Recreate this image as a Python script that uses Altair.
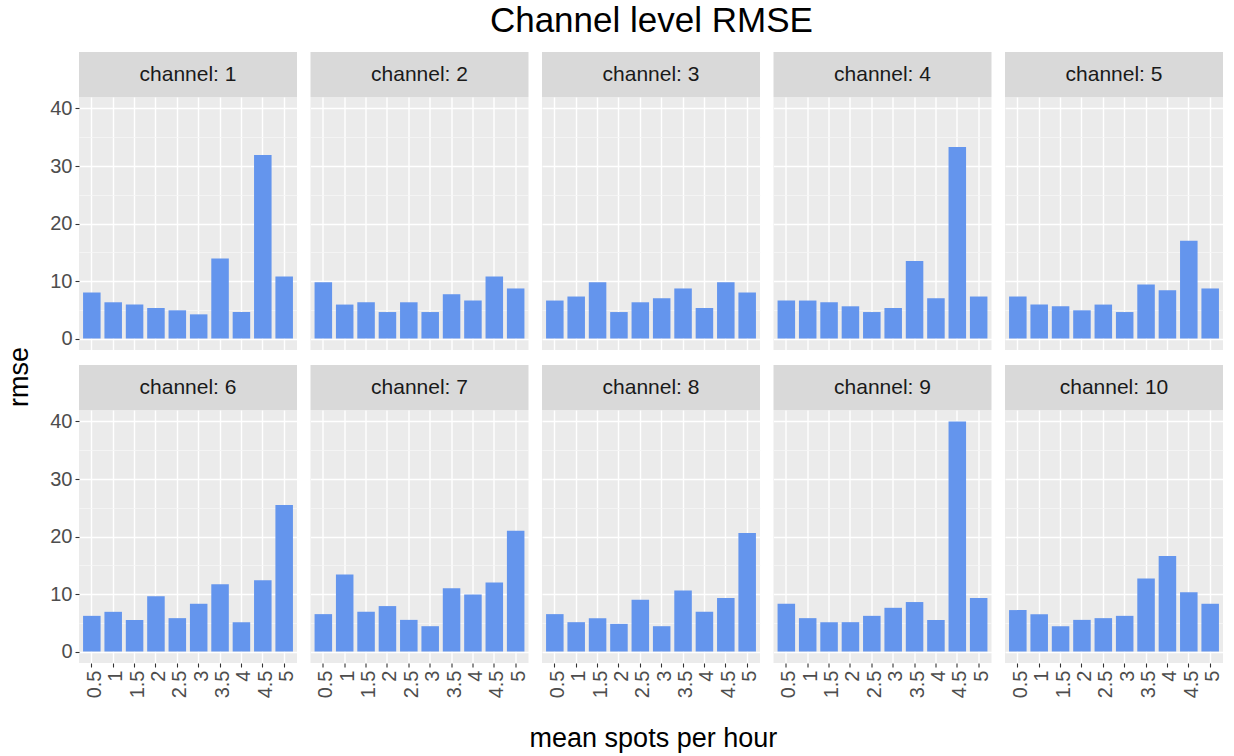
import altair as alt
import pandas as pd

# Mean spots per hour (x categories) and per-channel RMSE values
spot_labels = ["0.5", "1", "1.5", "2", "2.5", "3", "3.5", "4", "4.5", "5"]
channels = [1, 2, 3, 4, 5, 6, 7, 8, 9, 10]

rmse_ch1 = [8.0, 6.3, 5.9, 5.3, 4.9, 4.2, 13.9, 4.6, 31.9, 10.8]
rmse_ch2 = [9.8, 5.9, 6.3, 4.6, 6.3, 4.6, 7.7, 6.6, 10.8, 8.7]
rmse_ch3 = [6.6, 7.3, 9.8, 4.6, 6.3, 7.0, 8.7, 5.3, 9.8, 8.0]
rmse_ch4 = [6.6, 6.6, 6.3, 5.6, 4.6, 5.3, 13.5, 7.0, 33.3, 7.3]
rmse_ch5 = [7.3, 5.9, 5.6, 4.9, 5.9, 4.6, 9.4, 8.4, 17.0, 8.7]
rmse_ch6 = [6.2, 6.9, 5.5, 9.6, 5.8, 8.3, 11.7, 5.1, 12.4, 25.5]
rmse_ch7 = [6.5, 13.4, 6.9, 7.9, 5.5, 4.4, 11.0, 9.9, 12.0, 21.0]
rmse_ch8 = [6.5, 5.1, 5.8, 4.8, 9.0, 4.4, 10.6, 6.9, 9.3, 20.6]
rmse_ch9 = [8.3, 5.8, 5.1, 5.1, 6.2, 7.6, 8.6, 5.5, 40.0, 9.3]
rmse_ch10 = [7.2, 6.5, 4.4, 5.5, 5.8, 6.2, 12.7, 16.6, 10.3, 8.3]

# Major and minor y breaks (labels only on the major ones)
y_breaks = [0, 5, 10, 15, 20, 25, 30, 35, 40]

rmse_by_channel = [rmse_ch1, rmse_ch2, rmse_ch3, rmse_ch4, rmse_ch5,
                   rmse_ch6, rmse_ch7, rmse_ch8, rmse_ch9, rmse_ch10]

rows = []
for ch, vals in zip(channels, rmse_by_channel):
    for s, v in zip(spot_labels, vals):
        rows.append({"channel": ch, "strip": f"channel: {ch}", "spots": s, "rmse": v})
df = pd.DataFrame(rows)

ymax = float(df["rmse"].max())
ypad = 0.05 * ymax

FONT = "Liberation Sans"
W, H = 218, 253
STRIP = 45
NCOL = 5

base = alt.Chart(df)
major = "datum.value % 10 === 0"


def x_axis(show):
    return alt.Axis(
        title=None,
        labels=show,
        ticks=show,
        labelAngle=270,
        labelAlign="right",
        labelBaseline="middle",
        labelOffset=3,
        labelPadding=3,
        labelFontSize=20,
        grid=True,
        gridColor="#FFFFFF",
        gridWidth=1.4,
        bandPosition=0.5,
    )


def y_axis(show):
    return alt.Axis(
        title=None,
        labels=show,
        ticks=show,
        values=y_breaks,
        labelExpr=f"{major} ? datum.label : ''",
        labelFontSize=20,
        labelPadding=3,
        grid=True,
        gridColor=alt.ConditionalAxisColor(
            condition={"test": major, "value": "#FFFFFF"}, value="#F6F6F6"
        ),
        gridWidth=alt.ConditionalAxisNumber(
            condition={"test": major, "value": 1.4}, value=0.8
        ),
        tickOpacity=alt.ConditionalAxisNumber(
            condition={"test": major, "value": 1}, value=0
        ),
    )


def panel(ch, show_y, show_x):
    sub = base.transform_filter(alt.datum.channel == ch)
    bars = sub.mark_bar(color="#6495ED").encode(
        x=alt.X(
            "spots:O",
            sort=spot_labels,
            scale=alt.Scale(paddingInner=0.18, paddingOuter=0.19),
            axis=x_axis(show_x),
        ),
        y=alt.Y(
            "rmse:Q",
            scale=alt.Scale(domain=[-ypad, ymax + ypad], nice=False, zero=False),
            axis=y_axis(show_y),
        ),
    )
    head = sub.transform_filter(alt.datum.spots == spot_labels[0])
    strip_bg = head.mark_rect(color="#D9D9D9").encode(
        x=alt.value(0), x2=alt.value(W), y=alt.value(-STRIP), y2=alt.value(0)
    )
    strip_text = head.mark_text(
        font=FONT, fontSize=21, color="#1A1A1A", baseline="middle", align="center"
    ).encode(text="strip:N", x=alt.value(W / 2), y=alt.value(-STRIP / 2))
    return alt.layer(bars, strip_bg, strip_text).properties(width=W, height=H)


grid_rows = []
for r in range(2):
    row_charts = [
        panel(channels[r * NCOL + c], show_y=(c == 0), show_x=(r == 1))
        for c in range(NCOL)
    ]
    grid_rows.append(alt.hconcat(*row_charts, spacing=13.5))

panels = alt.vconcat(*grid_rows, spacing=15).properties(
    title=alt.TitleParams(
        "mean spots per hour", orient="bottom", anchor="middle", fontSize=27,
        font=FONT, fontWeight="normal", color="#000000", offset=28, dx=17,
    )
)

with_y_title = alt.hconcat(panels).properties(
    title=alt.TitleParams(
        "rmse", orient="left", anchor="middle", fontSize=27, font=FONT,
        fontWeight="normal", color="#000000", offset=16, dx=25,
    )
)

chart = alt.vconcat(with_y_title).properties(
    title=alt.TitleParams(
        "Channel level RMSE", fontSize=35, font=FONT, fontWeight="normal",
        color="#000000", anchor="middle", offset=13, dx=37,
    ),
    padding={"left": 5, "top": 4, "right": 8, "bottom": 2},
).configure_view(
    fill="#EBEBEB", strokeWidth=0
).configure_axis(
    labelFont=FONT,
    labelColor="#4D4D4D",
    tickColor="#333333",
    tickSize=4,
    tickWidth=1.1,
    domain=False,
)

chart.save("out.html", embed_options={"renderer": "svg", "actions": False})
